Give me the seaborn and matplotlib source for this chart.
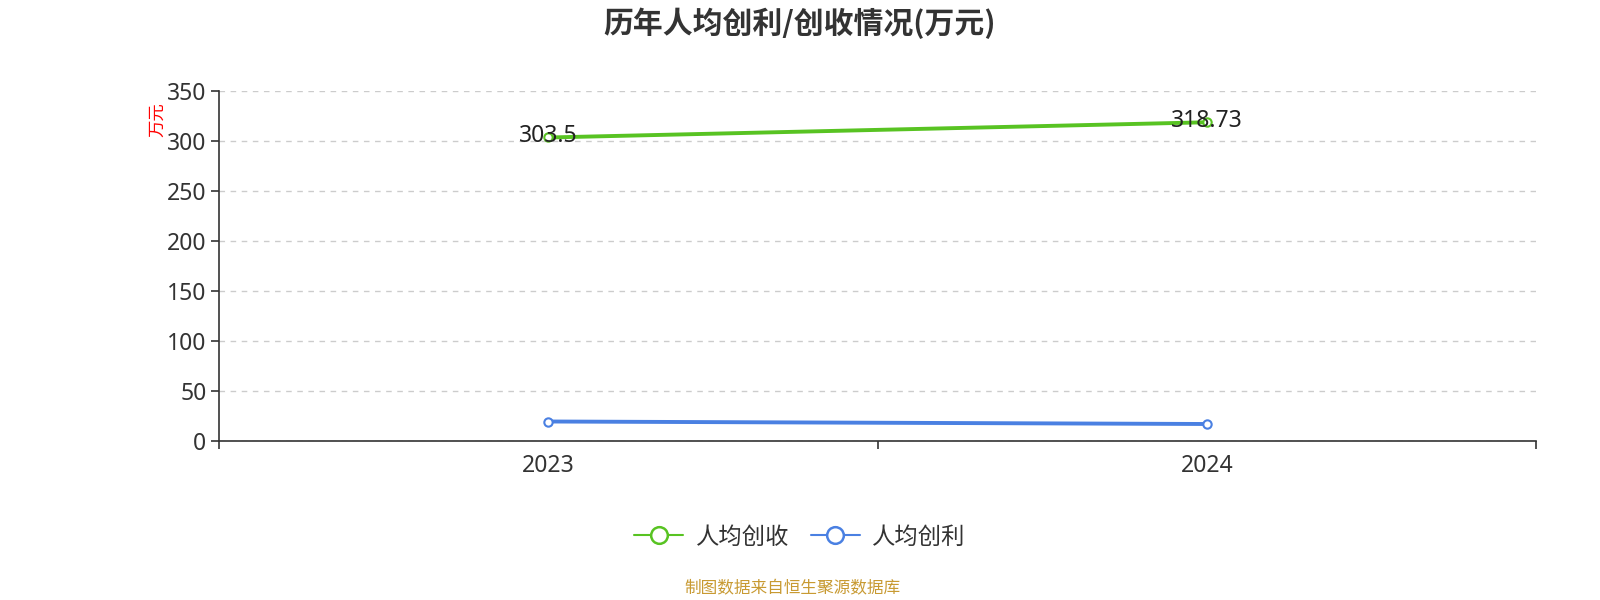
import pandas as pd
import matplotlib
matplotlib.use('Agg')
import matplotlib.pyplot as plt
import seaborn as sns
from matplotlib.lines import Line2D

# 数据
years = ['2023', '2024']
revenue_per_capita = [303.5, 318.73]
profit_per_capita = [19.5, 17.0]
series_names = ['人均创收', '人均创利']
colors = ['#58c322', '#4a80e2']

df = pd.DataFrame({
    'year': years * 2,
    'value': revenue_per_capita + profit_per_capita,
    'series': [series_names[0]] * 2 + [series_names[1]] * 2,
})
df['x'] = df['year'].map({y: i for i, y in enumerate(years)})

sns.set_theme(style='white')
plt.rcParams['font.family'] = ['Noto Sans', 'Noto Sans CJK SC', 'DejaVu Sans']
cjk = ['Noto Sans CJK SC', 'DejaVu Sans']

fig = plt.figure(figsize=(16, 6), dpi=100)
ax = fig.add_axes([219 / 1600, (600 - 441) / 600, (1536 - 219) / 1600, 350 / 600])

sns.lineplot(data=df, x='x', y='value', hue='series', palette=colors,
             linewidth=2.8, ax=ax, legend=False)

# 空心圆点
for name, c in zip(series_names, colors):
    sub = df[df['series'] == name]
    ax.scatter(sub['x'], sub['value'], s=36, facecolor='white',
               edgecolor=c, linewidth=1.5, zorder=5)

# 数据标签
for i, v in enumerate(revenue_per_capita):
    ax.text(i, v + 1, f'{v:g}', ha='center', va='center', fontsize=16.5,
            color='#222222', zorder=6)

ax.set_xlim(-0.5, 1.5)
ax.set_ylim(0, 350)
ax.set_yticks(range(0, 351, 50))
ax.tick_params(axis='y', which='major', direction='out', length=6, width=1.2,
               color='#333333', labelsize=16.5, labelcolor='#333333', pad=3, left=True)
ax.set_xticks([-0.5, 0.5, 1.5])
ax.set_xticklabels([])
ax.tick_params(axis='x', which='major', direction='out', length=6, width=1.2,
               color='#333333', bottom=True)
ax.set_xticks([0, 1], minor=True)
ax.set_xticklabels(years, minor=True)
ax.tick_params(axis='x', which='minor', length=0, labelsize=16.5,
               labelcolor='#333333', pad=9)

ax.grid(axis='y', linestyle=(0, (4, 4)), color='#cccccc', linewidth=1)
ax.grid(axis='x', visible=False)
for s in ['top', 'right']:
    ax.spines[s].set_visible(False)
for s in ['left', 'bottom']:
    ax.spines[s].set_color('#333333')
    ax.spines[s].set_linewidth(1.2)
ax.set_xlabel('')
ax.set_ylabel('')

fig.text(157 / 1600, 1 - 120 / 600, '万元', color='red', fontsize=12.5,
         rotation=90, ha='center', va='center', family=cjk)

fig.text(0.5, 1 - 23 / 600, '历年人均创利/创收情况(万元)', ha='center', va='center',
         fontsize=21.5, fontweight='bold', color='#333333', family=cjk)

handles = [Line2D([0], [0], color=c, linewidth=1.5, marker='o', markersize=12,
                  markerfacecolor='white', markeredgewidth=1.8) for c in colors]
fig.legend(handles, series_names, loc='center', bbox_to_anchor=(0.5, 1 - 537 / 600),
           ncol=2, frameon=False, prop={'family': cjk, 'size': 16.8},
           handlelength=2.1, columnspacing=0.9, handletextpad=0.55, labelcolor='#333333')

fig.text(792 / 1600, 1 - 589 / 600, '制图数据来自恒生聚源数据库', ha='center', va='center',
         fontsize=12, color='#c89a32', family=cjk)

fig.savefig('out.png', dpi=100)
